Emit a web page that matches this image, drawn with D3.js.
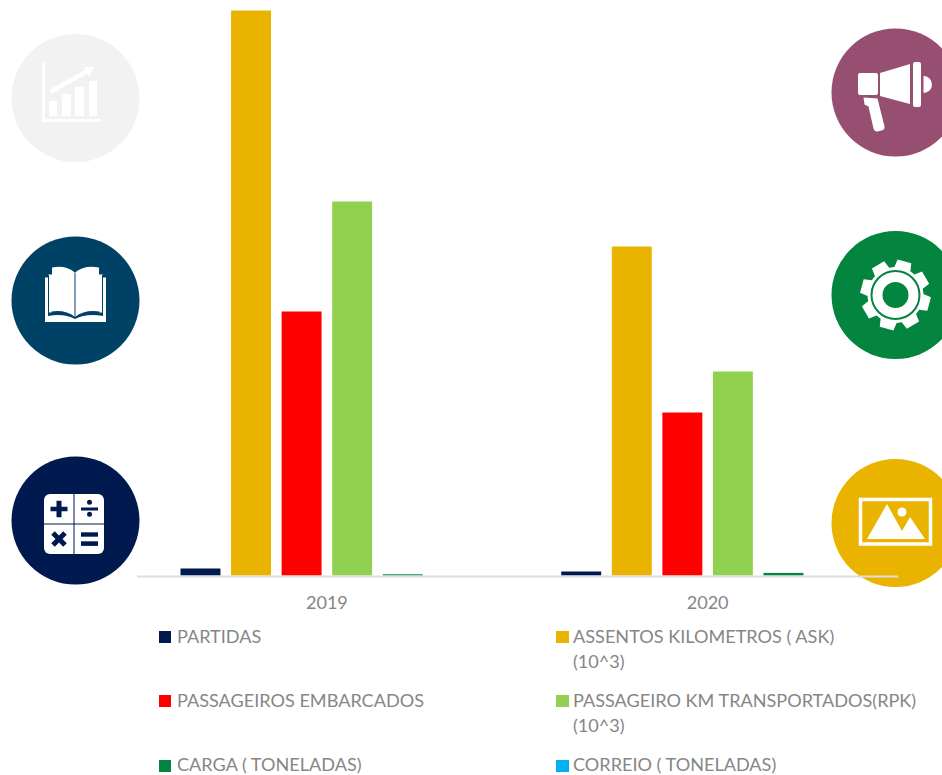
<!DOCTYPE html>
<html>
<head>
<meta charset="utf-8">
<script src="https://cdn.jsdelivr.net/npm/d3@7"></script>
<style>
  html, body { margin: 0; padding: 0; background: #fff; }
  svg { display: block; }
  text { font-family: Lato, "Open Sans", sans-serif; font-size: 18.1px; fill: #868686; }
</style>
</head>
<body>
<div id="chart"></div>
<script>
// values (no value axis in the original, so arbitrary units)
const years = ['2019', '2020'];
const seriesNames = [
  'PARTIDAS',
  'ASSENTOS KILOMETROS ( ASK) (10^3)',
  'PASSAGEIROS EMBARCADOS',
  'PASSAGEIRO KM TRANSPORTADOS(RPK) (10^3)',
  'CARGA ( TONELADAS)',
  'CORREIO ( TONELADAS)'
];
const partidas = [700, 400];
const ask = [56500, 32900];
const embarcados = [26400, 16300];
const rpk = [37400, 20400];
const carga = [120, 260];
const correio = [0, 0];
const seriesValues = [partidas, ask, embarcados, rpk, carga, correio];
const seriesColors = ['#001a4f', '#e9b300', '#ff0000', '#92d050', '#03843f', '#00b0f0'];

const width = 942;
const height = 775;

const svg = d3.select('#chart').append('svg')
  .attr('width', width)
  .attr('height', height);

// ---- decorative round icons behind the chart ----
function badge(cx, cy, fill) {
  const g = svg.append('g').attr('transform', `translate(${cx},${cy})`);
  g.append('circle').attr('r', 64).attr('fill', fill);
  return g;
}

// trend icon
const trend = badge(75.5, 98, '#f2f2f2');
trend.append('path').attr('fill', '#fff')
  .attr('d', 'M-33.5,-35H-30.5V21H25.5V24H-33.5Z');
[[-26.5, 3, 8, 15], [-13.5, -4, 9, 22], [-0.5, -11, 9, 29], [13.5, -17, 8, 35]].forEach(b => {
  trend.append('rect').attr('fill', '#fff')
    .attr('x', b[0]).attr('y', b[1]).attr('width', b[2]).attr('height', b[3]);
});
trend.append('path').attr('fill', '#fff')
  .attr('d', 'M-26.5,-8L10,-28.5L8,-31L19,-31L13.5,-21.5L12,-24.5L-24.5,-4Z');

// book icon
const book = badge(75.5, 300.5, '#004166');
book.append('path').attr('fill', '#fff')
  .attr('d', 'M-30.5,-23H-27.5V-26H-23.5V-33Q-10,-36 -0.5,-28Q9,-36 23.5,-33V-26H27.5V-23H30.5V21.5H-30.5Z');
book.append('path').attr('fill', '#004166')
  .attr('d', 'M-27.5,-25.5H-26.5V12H-24V11Q-10,9 -0.5,16.5Q9,9 24,11V12H26.5V-25.5H27.5V15.5Q11,12.5 -0.5,18.5Q-12,12.5 -27.5,15.5Z');
book.append('path').attr('fill', 'none').attr('stroke', '#004166').attr('stroke-width', 1)
  .attr('d', 'M-0.5,-28V17');

// calculator icon
const calc = badge(75.5, 520.5, '#001a4f');
calc.append('rect').attr('fill', '#fff')
  .attr('x', -31.5).attr('y', -26.5).attr('width', 60).attr('height', 60).attr('rx', 6);
calc.append('path').attr('stroke', '#001a4f').attr('stroke-width', 1).attr('fill', 'none')
  .attr('d', 'M-1.5,-26.5V33.5M-31.5,3.5H28.5');
calc.append('path').attr('fill', '#001a4f')
  .attr('d', 'M-25,-13.8H-19V-19.8H-14V-13.8H-8V-9.2H-14V-3.2H-19V-9.2H-25Z');
calc.append('rect').attr('fill', '#001a4f').attr('x', 5.5).attr('y', -13).attr('width', 17).attr('height', 3);
calc.append('circle').attr('fill', '#001a4f').attr('cx', 14).attr('cy', -18.2).attr('r', 2.5);
calc.append('circle').attr('fill', '#001a4f').attr('cx', 14).attr('cy', -6.2).attr('r', 2.5);
calc.append('path').attr('fill', '#001a4f')
  .attr('transform', 'translate(-16.5,18.5) rotate(45)')
  .attr('d', 'M-8.5,-2.5H-2.5V-8.5H2.5V-2.5H8.5V2.5H2.5V8.5H-2.5V2.5H-8.5Z');
calc.append('rect').attr('fill', '#001a4f').attr('x', 5.5).attr('y', 11.8).attr('width', 17).attr('height', 4.4);
calc.append('rect').attr('fill', '#001a4f').attr('x', 5.5).attr('y', 20.8).attr('width', 17).attr('height', 4.6);

// megaphone icon
const mega = badge(895.5, 92.5, '#964f71');
mega.append('rect').attr('fill', '#fff')
  .attr('x', -37.5).attr('y', -19.5).attr('width', 20).attr('height', 22).attr('rx', 2);
mega.append('path').attr('fill', '#fff').attr('d', 'M-15.5,-19.5L14.5,-28.5V11.5L-15.5,3.5Z');
mega.append('rect').attr('fill', '#fff')
  .attr('x', 17.5).attr('y', -30.5).attr('width', 8).attr('height', 45).attr('rx', 2);
mega.append('path').attr('fill', '#fff').attr('d', 'M28,-16.5A8.5,8.5 0 0 1 28,0.5Z');
mega.append('path').attr('fill', '#fff')
  .attr('d', 'M-32,5L-18,6L-11,34Q-10.5,37 -14,38L-18,39Q-21,39.5 -22,36L-27,14L-31,12Z');

// gear icon
const gear = badge(895.5, 295, '#03843f');
const teeth = 8;
const gearPoints = [];
for (let i = 0; i < teeth; i++) {
  const a = (i / teeth) * 2 * Math.PI + 0.26;
  [[-0.3, 28], [-0.2, 35.5], [0.2, 35.5], [0.3, 28]].forEach(p => {
    gearPoints.push([p[1] * Math.cos(a + p[0]), p[1] * Math.sin(a + p[0])]);
  });
}
gear.append('path').attr('fill', '#fff').attr('d', d3.line()(gearPoints) + 'Z');
gear.append('circle').attr('r', 24).attr('fill', 'none').attr('stroke', '#03843f').attr('stroke-width', 2);
gear.append('circle').attr('r', 13).attr('fill', '#03843f');

// picture icon
const pic = badge(895.5, 523, '#e9b300');
pic.append('rect').attr('fill', 'none').attr('stroke', '#fff').attr('stroke-width', 3.5)
  .attr('x', -35).attr('y', -23.5).attr('width', 70).attr('height', 44.5);
pic.append('path').attr('fill', '#fff')
  .attr('d', 'M-28.5,16L-8.5,-19L6.5,8L14.5,-6L29.5,16Z');
pic.append('circle').attr('fill', '#fff').attr('cx', 6.5).attr('cy', -11).attr('r', 4.5);

// ---- bars ----
const baseline = 575.5;

const x0 = d3.scaleBand().domain(years).range([136.5, 898]);
const x1 = d3.scaleBand()
  .domain(seriesNames)
  .range([44, x0.bandwidth() - 44])
  .paddingInner(0.21);
const y = d3.scaleLinear().domain([0, 57550]).range([baseline, 0]);

const barData = [];
years.forEach((year, yi) => {
  seriesNames.forEach((name, si) => {
    barData.push({ year, name, color: seriesColors[si], value: seriesValues[si][yi] });
  });
});

svg.append('g').selectAll('rect')
  .data(barData)
  .enter()
  .append('rect')
  .attr('x', d => x0(d.year) + x1(d.name))
  .attr('y', d => y(d.value))
  .attr('width', x1.bandwidth())
  .attr('height', d => baseline - y(d.value))
  .attr('fill', d => d.color);

// ---- axis ----
const axis = svg.append('g')
  .attr('transform', `translate(0,${baseline + 0.5})`)
  .call(d3.axisBottom(x0).tickSize(0).tickPadding(20));
axis.select('.domain').attr('stroke', '#dedede').attr('stroke-width', 2);
axis.selectAll('text')
  .style('font-family', 'Lato, "Open Sans", sans-serif')
  .style('font-size', '18.1px')
  .attr('fill', '#868686');

// ---- legend ----
const legendRows = [
  { name: seriesNames[0], lines: ['PARTIDAS'], sx: 159, sw: 12, tx: 177, y: 643, ty: 643 },
  { name: seriesNames[1], lines: ['ASSENTOS KILOMETROS ( ASK)', '(10^3)'], sx: 556, sw: 13, tx: 573, y: 643, ty: 643 },
  { name: seriesNames[2], lines: ['PASSAGEIROS EMBARCADOS'], sx: 159, sw: 12, tx: 177, y: 707, ty: 707 },
  { name: seriesNames[3], lines: ['PASSAGEIRO KM TRANSPORTADOS(RPK)', '(10^3)'], sx: 556, sw: 13, tx: 573, y: 707, ty: 707 },
  { name: seriesNames[4], lines: ['CARGA ( TONELADAS)'], sx: 159, sw: 12, tx: 177, y: 772, ty: 771 },
  { name: seriesNames[5], lines: ['CORREIO ( TONELADAS)'], sx: 556, sw: 13, tx: 573, y: 772, ty: 771 }
];

const legend = svg.append('g');
legendRows.forEach(row => {
  legend.append('rect')
    .attr('x', row.sx)
    .attr('y', row.y - 12)
    .attr('width', row.sw)
    .attr('height', 12)
    .attr('fill', seriesColors[seriesNames.indexOf(row.name)]);
  row.lines.forEach((line, i) => {
    legend.append('text')
      .attr('x', row.tx)
      .attr('y', row.ty + i * 25)
      .text(line);
  });
});
</script>
</body>
</html>
